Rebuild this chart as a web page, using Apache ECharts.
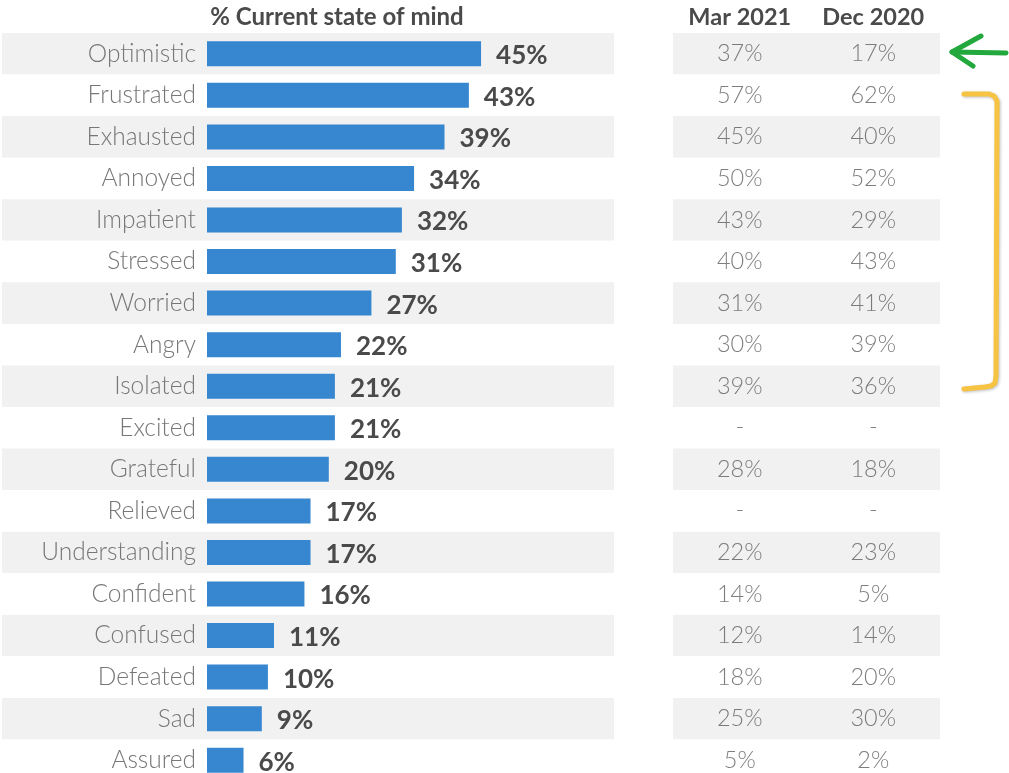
<!DOCTYPE html>
<html>
<head>
<meta charset="utf-8">
<script src="https://cdn.jsdelivr.net/npm/echarts@6/dist/echarts.min.js"></script>
<style>
  html, body { margin: 0; padding: 0; background: #ffffff; }
  #chart { width: 1009px; height: 773px; }
</style>
</head>
<body>
<div id="chart"></div>
<script>
// Survey: current state of mind, with the two earlier waves for comparison
const categories = [
  'Optimistic', 'Frustrated', 'Exhausted', 'Annoyed', 'Impatient', 'Stressed',
  'Worried', 'Angry', 'Isolated', 'Excited', 'Grateful', 'Relieved',
  'Understanding', 'Confident', 'Confused', 'Defeated', 'Sad', 'Assured'
];
const currentValues = [45, 43, 39, 34, 32, 31, 27, 22, 21, 21, 20, 17, 17, 16, 11, 10, 9, 6];
const mar2021 = [37, 57, 45, 50, 43, 40, 31, 30, 39, null, 28, null, 22, 14, 12, 18, 25, 5];
const dec2020 = [17, 62, 40, 52, 29, 43, 41, 39, 36, null, 18, null, 23, 5, 14, 20, 30, 2];
const tableColumns = ['Mar 2021', 'Dec 2020'];
const chartTitle = '% Current state of mind';

const FONT = 'Lato, "Open Sans", sans-serif';
const BAND = ['#f1f1f1', '#ffffff'];
const ROWS_TOP = 33;
const ROWS_HEIGHT = 748;   // the last row runs slightly past the bottom edge

const fmt = v => (v == null ? '-' : v + '%');
const tableData = [];
categories.forEach((c, i) => {
  tableData.push({ value: [0, i], name: fmt(mar2021[i]) });
  tableData.push({ value: [1, i], name: fmt(dec2020[i]) });
});

const bandYAxis = (gridIndex) => ({
  type: 'category', gridIndex, data: categories, inverse: true,
  axisLine: { show: false }, axisTick: { show: false }, axisLabel: { show: false },
  splitLine: { show: false },
  splitArea: { show: true, interval: 0, areaStyle: { color: BAND } }
});

const gridBase = { top: ROWS_TOP, height: ROWS_HEIGHT, outerBoundsMode: 'none', containLabel: false };

const chart = echarts.init(document.getElementById('chart'), null, { renderer: 'canvas' });
chart.setOption({
  backgroundColor: '#ffffff',
  animation: false,
  grid: [
    Object.assign({ left: 2, width: 612 }, gridBase),     // row bands behind the bars
    Object.assign({ left: 207, width: 609 }, gridBase),   // bars
    Object.assign({ left: 673, width: 267 }, gridBase)    // comparison table
  ],
  xAxis: [
    { type: 'value', gridIndex: 0, show: false, min: 0, max: 100 },
    { type: 'value', gridIndex: 1, show: false, min: 0, max: 100 },
    {
      type: 'category', gridIndex: 2, data: tableColumns, position: 'top',
      axisLine: { show: false }, axisTick: { show: false }, splitLine: { show: false },
      axisLabel: { interval: 0, hideOverlap: false, margin: 4, fontFamily: FONT, fontSize: 23.5,
                   fontWeight: 'bold', color: '#4a4a4a' }
    }
  ],
  yAxis: [
    bandYAxis(0),
    {
      type: 'category', gridIndex: 1, data: categories, inverse: true,
      axisLine: { show: false }, axisTick: { show: false }, splitLine: { show: false },
      axisLabel: { interval: 0, margin: 11, fontFamily: FONT, fontSize: 24.5, fontWeight: 300, color: '#777777' }
    },
    bandYAxis(2)
  ],
  series: [
    {
      type: 'bar', xAxisIndex: 1, yAxisIndex: 1, data: currentValues,
      barWidth: 25, itemStyle: { color: '#3686d0' },
      label: {
        show: true, position: 'right', distance: 15, offset: [0, 2], formatter: '{c}%',
        fontFamily: FONT, fontSize: 26, fontWeight: 'bold', color: '#4a4a4a'
      }
    },
    {
      type: 'scatter', xAxisIndex: 2, yAxisIndex: 2, data: tableData,
      symbolSize: 1, itemStyle: { color: 'rgba(0,0,0,0)' },
      label: {
        show: true, position: 'inside', formatter: '{b}',
        fontFamily: FONT, fontSize: 23.5, fontWeight: 300, color: '#5e5e5e'
      }
    }
  ],
  graphic: [
    {
      type: 'text', x: 337, y: 17,
      style: { text: chartTitle, align: 'center', verticalAlign: 'middle',
               font: 'bold 24px ' + FONT, fill: '#4a4a4a' }
    },
    // green arrow pointing at the first table row
    {
      type: 'polyline', shape: { points: [[1006, 53], [952, 52]] },
      style: { stroke: '#22a83c', lineWidth: 5, lineCap: 'round', fill: null }
    },
    {
      type: 'polyline', shape: { points: [[981, 36], [952, 52], [973, 66]] },
      style: { stroke: '#22a83c', lineWidth: 5, lineCap: 'round', lineJoin: 'round', fill: null }
    },
    // yellow bracket grouping the negative feelings
    {
      type: 'polyline',
      shape: { points: [[964, 94], [989, 94], [994, 96], [997, 101], [997, 108],
                        [996, 376], [995, 383], [991, 386], [985, 387], [964, 389]] },
      style: { stroke: '#f6c343', lineWidth: 5, lineCap: 'round', lineJoin: 'round', fill: null,
               shadowBlur: 3, shadowColor: 'rgba(0,0,0,0.25)', shadowOffsetX: 1, shadowOffsetY: 1 }
    }
  ]
});
</script>
</body>
</html>
